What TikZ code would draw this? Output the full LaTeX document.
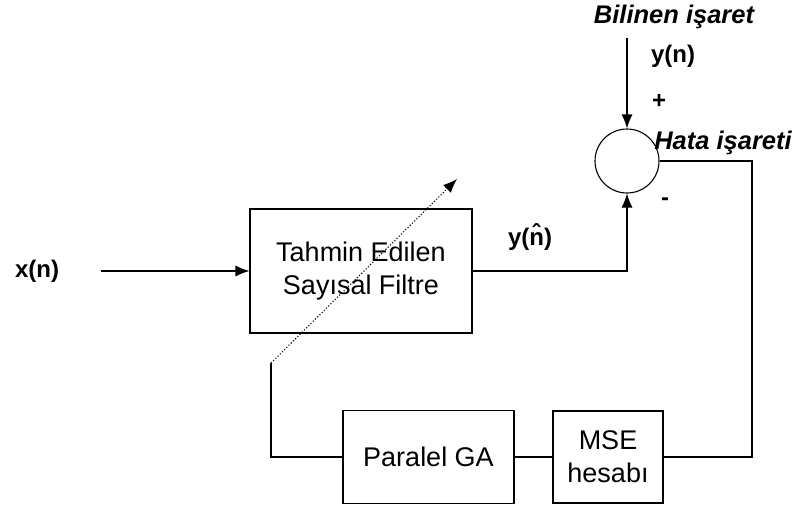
\documentclass[tikz,border=0pt]{standalone}
\usepackage{fontspec}
\setmainfont{Liberation Sans}
\usetikzlibrary{arrows.meta}
\begin{document}
\begin{tikzpicture}[x=1pt,y=-1pt,
  line width=1.1pt,
  blk/.style={draw,rectangle,inner sep=0pt,align=center,font=\fontsize{27}{33}\selectfont},
  lbl/.style={font=\fontsize{24}{28}\selectfont\bfseries,inner sep=0pt},
  ilbl/.style={font=\fontsize{25.5}{28}\selectfont\bfseries\itshape,inner sep=0pt},
  arr/.style={-{Latex[length=14pt,width=11pt]}}]
\useasboundingbox (0,0) rectangle (800,506);
\node[blk,minimum width=222pt,minimum height=124pt] (filt) at (361,271) {Tahmin Edilen\\Sayısal Filtre};
\node[blk,minimum width=171pt,minimum height=93pt] (ga) at (428.5,457) {Paralel GA};
\node[blk,minimum width=110pt,minimum height=92pt] (mse) at (608,457) {MSE\\hesabı};
\node[draw,circle,minimum size=64pt,inner sep=0pt] (sum) at (627,161) {};
\node[lbl] (xn) at (37,271) {x(n)};
\node[ilbl] (bil) at (674,17) {Bilinen işaret};
\node[lbl] (yn) at (673,56) {y(n)};
\node[lbl] (plus) at (659,101) {+};
\node[ilbl] (hata) at (723,143) {Hata işareti};
\node[lbl] (minus) at (665,202) {-};
\node[lbl] (yhat) at (530,237) {y(\^{n})};
\coordinate (in) at (101,271);
\coordinate (top) at (627,38);
\coordinate (rc) at (752,457);
\coordinate (lc) at (271,363);
\coordinate (tip) at (457,179);
\draw[arr] (in) -- (filt.west);
\draw[arr] (filt.east) -| (sum.south);
\draw[arr] (top) -- (sum.north);
\draw (sum.east) -| (rc) -- (mse.east);
\draw (mse.west) -- (ga.east);
\draw (ga.west) -| (lc);
\draw[arr,dotted] (lc) -- (tip);
\end{tikzpicture}
\end{document}
